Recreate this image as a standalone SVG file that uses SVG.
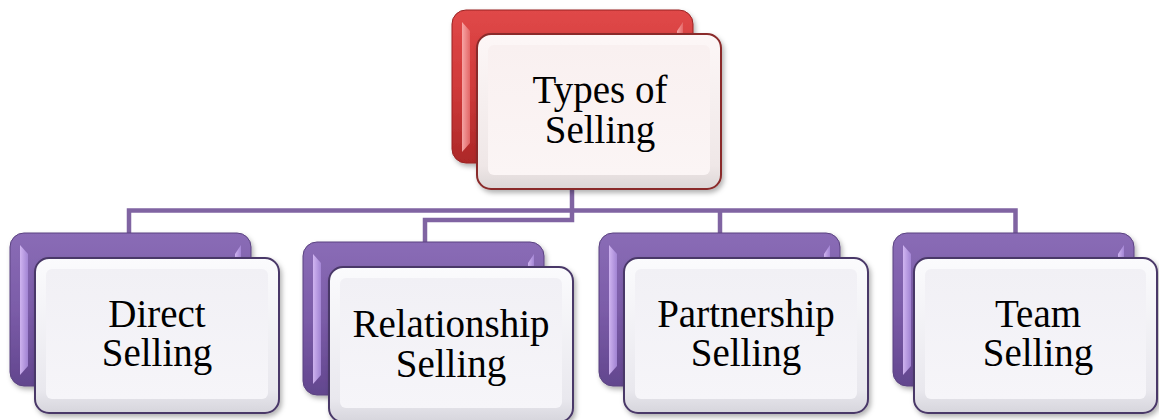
<svg xmlns="http://www.w3.org/2000/svg" width="1159" height="420" viewBox="0 0 1159 420">
<defs>
<linearGradient id="gPurple" x1="0" y1="0" x2="0" y2="1">
<stop offset="0" stop-color="#8a6cb6"/><stop offset="0.5" stop-color="#7b5ca8"/><stop offset="1" stop-color="#62468e"/>
</linearGradient>
<linearGradient id="gRed" x1="0" y1="0" x2="0" y2="1">
<stop offset="0" stop-color="#e04848"/><stop offset="0.5" stop-color="#d03a3a"/><stop offset="1" stop-color="#ac2828"/>
</linearGradient>
<linearGradient id="gLav" x1="0" y1="0" x2="1" y2="0">
<stop offset="0" stop-color="#d8bdf8"/><stop offset="1" stop-color="#a688d8"/>
</linearGradient>
<linearGradient id="gPink" x1="0" y1="0" x2="1" y2="0">
<stop offset="0" stop-color="#fbb0b0"/><stop offset="1" stop-color="#e46a6a"/>
</linearGradient>
<linearGradient id="gFront" x1="0" y1="0" x2="0" y2="1">
<stop offset="0" stop-color="#fbfbfd"/><stop offset="0.85" stop-color="#e9e8ee"/><stop offset="1" stop-color="#d6d5dc"/>
</linearGradient>
<linearGradient id="gInner" x1="0" y1="0" x2="0" y2="1">
<stop offset="0" stop-color="#f1f0f5"/><stop offset="1" stop-color="#f6f5f9"/>
</linearGradient>
<linearGradient id="gFrontR" x1="0" y1="0" x2="0" y2="1">
<stop offset="0" stop-color="#fdf7f7"/><stop offset="0.85" stop-color="#efe7e7"/><stop offset="1" stop-color="#dcd6d6"/>
</linearGradient>
<linearGradient id="gInnerR" x1="0" y1="0" x2="0" y2="1">
<stop offset="0" stop-color="#f9f0f0"/><stop offset="1" stop-color="#fbf5f5"/>
</linearGradient>
<filter id="sh" x="-10%" y="-10%" width="125%" height="130%">
<feDropShadow dx="2" dy="3" stdDeviation="2.5" flood-color="#000" flood-opacity="0.3"/>
</filter>
</defs>
<style>
.conn{fill:none;stroke:#8064a2;stroke-width:4.5;stroke-linejoin:miter}
.backP{fill:url(#gPurple);stroke:#5a4280;stroke-width:1}
.backR{fill:url(#gRed);stroke:#9a2323;stroke-width:1}
.bevP{fill:url(#gLav);opacity:0.9}
.bevR{fill:url(#gPink);opacity:0.9}
.frontP{fill:url(#gFront);stroke:#4a3868;stroke-width:2}
.frontR{fill:url(#gFrontR);stroke:#8a2a2a;stroke-width:2}
.inP{fill:url(#gInner)}
.inR{fill:url(#gInnerR)}
.lbl{font-family:"Liberation Serif","Times New Roman",serif;font-size:39px;fill:#000;text-anchor:middle}
</style>

<g id="connectors">
<path class="conn" d="M129,234 V210.5 H1015.5 V234"/>
<path class="conn" d="M720,210.5 V234"/>
<path class="conn" d="M572,185 V220 H425 V243"/>
</g>

<g id="node-top">
<rect class="backR" x="452" y="10" width="241" height="153" rx="14" filter="url(#sh)"/>
<polygon class="bevR" points="462,22 470,31 470,143 462,152"/>
<polygon class="bevR" points="683,22 677,31 677,50 683,50"/>
<rect class="frontR" x="477" y="34" width="244" height="155" rx="14" filter="url(#sh)"/>
<rect class="inR" x="488" y="45" width="222" height="130" rx="6"/>
<text class="lbl" x="600" y="103">Types of</text>
<text class="lbl" x="600" y="143">Selling</text>
</g>

<g id="node-direct">
<rect class="backP" x="10" y="233" width="241" height="153" rx="14" filter="url(#sh)"/>
<polygon class="bevP" points="20,245 28,254 28,366 20,375"/>
<polygon class="bevP" points="241,245 235,254 235,258 241,258"/>
<rect class="frontP" x="35" y="258" width="244" height="155" rx="14" filter="url(#sh)"/>
<rect class="inP" x="46" y="269" width="222" height="130" rx="6"/>
<text class="lbl" x="157" y="327">Direct</text>
<text class="lbl" x="157" y="366">Selling</text>
</g>

<g id="node-relationship">
<rect class="backP" x="303" y="242" width="241" height="153" rx="14" filter="url(#sh)"/>
<polygon class="bevP" points="313,254 321,263 321,375 313,384"/>
<polygon class="bevP" points="534,254 528,263 528,267 534,267"/>
<rect class="frontP" x="329" y="267" width="244" height="155" rx="14" filter="url(#sh)"/>
<rect class="inP" x="340" y="278" width="222" height="130" rx="6"/>
<text class="lbl" x="451" y="337">Relationship</text>
<text class="lbl" x="451" y="377">Selling</text>
</g>

<g id="node-partnership">
<rect class="backP" x="599" y="233" width="241" height="153" rx="14" filter="url(#sh)"/>
<polygon class="bevP" points="609,245 617,254 617,366 609,375"/>
<polygon class="bevP" points="830,245 824,254 824,258 830,258"/>
<rect class="frontP" x="624" y="258" width="244" height="155" rx="14" filter="url(#sh)"/>
<rect class="inP" x="635" y="269" width="222" height="130" rx="6"/>
<text class="lbl" x="746" y="327">Partnership</text>
<text class="lbl" x="746" y="366">Selling</text>
</g>

<g id="node-team">
<rect class="backP" x="893" y="233" width="241" height="153" rx="14" filter="url(#sh)"/>
<polygon class="bevP" points="903,245 911,254 911,366 903,375"/>
<polygon class="bevP" points="1124,245 1118,254 1118,258 1124,258"/>
<rect class="frontP" x="914" y="258" width="243" height="155" rx="14" filter="url(#sh)"/>
<rect class="inP" x="925" y="269" width="221" height="130" rx="6"/>
<text class="lbl" x="1038" y="327">Team</text>
<text class="lbl" x="1038" y="366">Selling</text>
</g>
</svg>
